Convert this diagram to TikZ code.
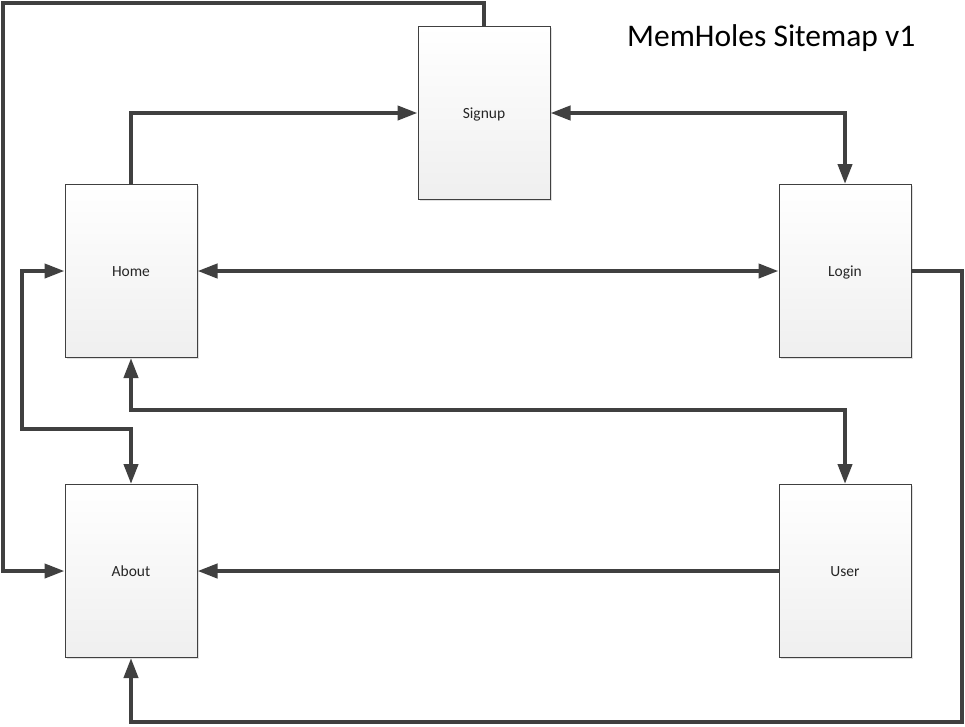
\documentclass[tikz,border=0pt]{standalone}
\usepackage{fontspec}
\setmainfont{Carlito}
\usetikzlibrary{arrows.meta,calc,shadows}
\definecolor{linegray}{HTML}{404040}
\definecolor{boxbot}{HTML}{EFEFEF}
\begin{document}
\begin{tikzpicture}[x=1pt,y=-1pt,
  page/.style={draw=linegray, line width=1pt, top color=white, bottom color=boxbot,
    minimum width=132pt, minimum height=173pt, inner sep=0pt,
    text height=10.5pt, text depth=0pt,
    font=\fontsize{15.5}{18}\selectfont, text=black!85,
    general shadow={shadow xshift=1.5pt, shadow yshift=-1.5pt, fill=black!12}},
  conn/.style={draw=linegray, line width=4pt, line join=miter},
  tipR/.style={-{Triangle[length=20pt,width=14pt]}},
  tipB/.style={{Triangle[length=20pt,width=14pt]}-{Triangle[length=20pt,width=14pt]}}
]
\useasboundingbox (0,0) rectangle (965,726);
\node[page] (signup) at (484,113) {Signup};
\node[page] (home) at (131,271) {Home};
\node[page] (login) at (845,271) {Login};
\node[page] (about) at (131,571) {About};
\node[page] (user) at (845,571) {User};
\node[anchor=base west, inner sep=0pt, font=\fontsize{31.5}{38}\selectfont, text=black] (title) at (627,46) {MemHoles Sitemap v1};
\coordinate (tl) at (2.5,2.5);
\coordinate (br) at (962,722);
% Home -> Signup
\draw[conn,tipR] (home.north) |- (signup.west);
% Signup <-> Login
\draw[conn,tipB] (signup.east) -| (login.north);
% Home <-> Login
\draw[conn,tipB] (home.east) -- (login.west);
% Home <-> User
\draw[conn,tipB] (home.south) -- ($(home.south)+(0,52)$) -| (user.north);
% Home <-> About
\draw[conn,tipB] (home.west) -- ($(home.west)+(-43,0)$) |- ($(about.north)+(0,-55)$) -- (about.north);
% Signup -> About
\draw[conn,tipR] (signup.north) |- (tl) |- (about.west);
% User -> About
\draw[conn,tipR] (user.west) -- (about.east);
% Login -> About
\draw[conn,tipR] (login.east) -| (br) -| (about.south);
\end{tikzpicture}
\end{document}
